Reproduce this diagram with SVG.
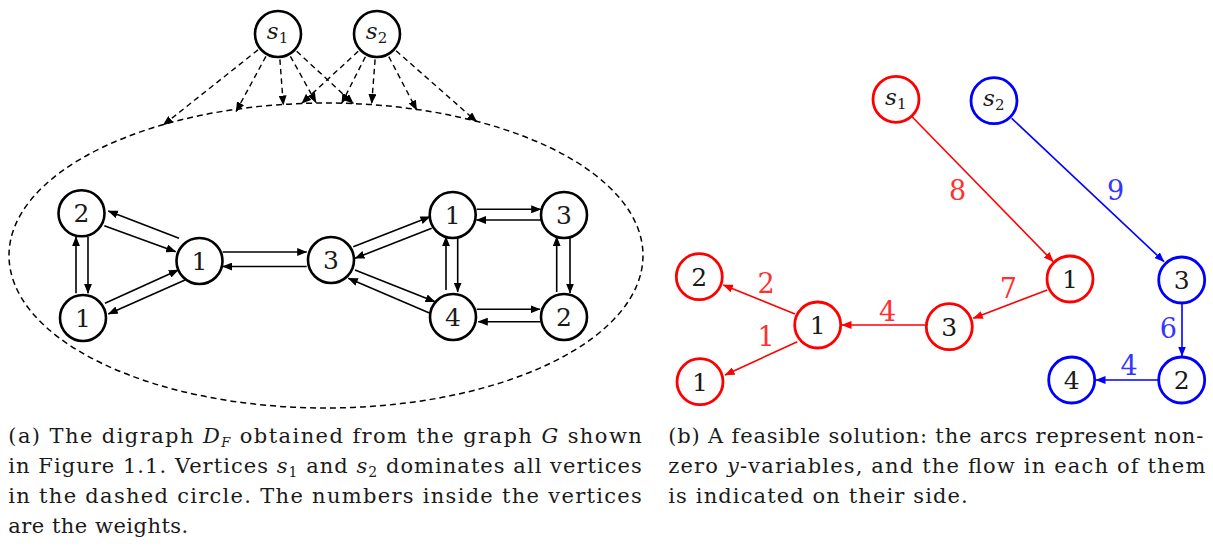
<svg xmlns="http://www.w3.org/2000/svg" width="1213" height="549" viewBox="0 0 1213 549">
<style>
.n circle{fill:#fff;stroke:#000;stroke-width:2.6}
.r circle{fill:#fff;stroke:#f00;stroke-width:2.8}
.b circle{fill:#fff;stroke:#00f;stroke-width:2.8}
text{font-family:'DejaVu Serif',serif;fill:#1a1a1a}
.lab{font-size:25px;text-anchor:middle}
.el{font-size:27px;text-anchor:middle}
.cap{font-size:21px}
.e line{stroke:#000;stroke-width:1.6;marker-end:url(#ah)}
.d line{stroke:#000;stroke-width:1.4;stroke-dasharray:5.5 4;marker-end:url(#ahd)}
.er line{stroke:#f00;stroke-width:1.6;marker-end:url(#ahr)}
.eb line{stroke:#00f;stroke-width:1.6;marker-end:url(#ahb)}
</style>
<defs>
<marker id="ah" viewBox="0 0 10 8" refX="9.5" refY="4" markerWidth="10" markerHeight="8" markerUnits="userSpaceOnUse" orient="auto"><path d="M0,0 L10,4 L0,8 Z" fill="#000"/></marker>
<marker id="ahd" viewBox="0 0 10 8" refX="9.5" refY="4" markerWidth="10" markerHeight="8" markerUnits="userSpaceOnUse" orient="auto"><path d="M0,0 L10,4 L0,8 Z" fill="#000"/></marker>
<marker id="ahr" viewBox="0 0 10 8" refX="9.5" refY="4" markerWidth="10" markerHeight="8" markerUnits="userSpaceOnUse" orient="auto"><path d="M0,0 L10,4 L0,8 Z" fill="#f00"/></marker>
<marker id="ahb" viewBox="0 0 10 8" refX="9.5" refY="4" markerWidth="10" markerHeight="8" markerUnits="userSpaceOnUse" orient="auto"><path d="M0,0 L10,4 L0,8 Z" fill="#00f"/></marker>
</defs>

<ellipse id="dashed-circle" cx="326" cy="255.5" rx="317" ry="152.5" fill="none" stroke="#000" stroke-width="1.5" stroke-dasharray="6 4"/>

<g id="connectors">
<g class="d">
<line x1="258.0" y1="49.9" x2="163.3" y2="125"/>
<line x1="265.9" y1="56.4" x2="236" y2="111.7"/>
<line x1="279.9" y1="59.4" x2="283.3" y2="105"/>
<line x1="290.4" y1="56.3" x2="316" y2="102.5"/>
<line x1="296.7" y1="51.3" x2="353.3" y2="103.5"/>
<line x1="358.2" y1="51.3" x2="301.7" y2="103.3"/>
<line x1="365.4" y1="56.7" x2="341.7" y2="103.3"/>
<line x1="375.1" y1="59.4" x2="371.7" y2="103.5"/>
<line x1="388.8" y1="56.6" x2="416.7" y2="110"/>
<line x1="396.1" y1="50.8" x2="476.7" y2="121.7"/>
</g>
<g class="e">
<line x1="179" y1="238.3" x2="108.3" y2="211"/>
<line x1="104.3" y1="225.7" x2="175.7" y2="251.7"/>
<line x1="105" y1="303.3" x2="178.3" y2="270"/>
<line x1="185" y1="280" x2="108.3" y2="314"/>
<line x1="76" y1="293.3" x2="76" y2="236.7"/>
<line x1="88" y1="236.7" x2="88" y2="293.3"/>
<line x1="222.7" y1="252" x2="306.7" y2="252"/>
<line x1="306.7" y1="266.5" x2="222.7" y2="266.5"/>
<line x1="353.3" y1="246.7" x2="430" y2="216.7"/>
<line x1="431.7" y1="228.3" x2="355" y2="258.3"/>
<line x1="355" y1="270" x2="435" y2="301.7"/>
<line x1="430" y1="313.3" x2="348.3" y2="278.3"/>
<line x1="446" y1="290" x2="446" y2="236.7"/>
<line x1="457.7" y1="236.7" x2="457.7" y2="292"/>
<line x1="476.7" y1="209.3" x2="540.7" y2="209.3"/>
<line x1="540.7" y1="220" x2="476.5" y2="220"/>
<line x1="556.7" y1="292" x2="556.7" y2="236.7"/>
<line x1="570" y1="236.7" x2="570" y2="293"/>
<line x1="476.7" y1="309.3" x2="540" y2="309.3"/>
<line x1="540" y1="321.7" x2="478.3" y2="321.7"/>
</g>
<g class="er">
<line x1="912.3" y1="117" x2="1053.3" y2="261.7"/>
<line x1="1047.3" y1="290" x2="973.3" y2="318.3"/>
<line x1="925" y1="325" x2="842" y2="325"/>
<line x1="795" y1="314" x2="723.3" y2="285"/>
<line x1="797.3" y1="341.7" x2="725" y2="375"/>
</g>
<g class="eb">
<line x1="1011.7" y1="118.3" x2="1164" y2="261.7"/>
<line x1="1182" y1="304" x2="1182" y2="356"/>
<line x1="1158" y1="380" x2="1096" y2="380"/>
</g>
</g>

<g id="edge-labels">
<text class="el" x="957.5" y="199.5" style="fill:#ff3030">8</text>
<text class="el" x="1008.3" y="297.5" style="fill:#ff3030">7</text>
<text class="el" x="887.7" y="321" style="fill:#ff3030">4</text>
<text class="el" x="766" y="292.8" style="fill:#ff3030">2</text>
<text class="el" x="766" y="346.2" style="fill:#ff3030">1</text>
<text class="el" x="1115.7" y="199.5" style="fill:#3535ff">9</text>
<text class="el" x="1168.3" y="337.8" style="fill:#3535ff">6</text>
<text class="el" x="1129" y="374.5" style="fill:#3535ff">4</text>
</g>

<g id="s1" class="n"><circle cx="278" cy="34" r="23"/><text class="lab" x="277.5" y="39" style="font-size:23px"><tspan font-style="italic">s</tspan><tspan font-size="15" dy="4">1</tspan></text></g>
<g id="s2" class="n"><circle cx="377" cy="34" r="23"/><text class="lab" x="376.5" y="39" style="font-size:23px"><tspan font-style="italic">s</tspan><tspan font-size="15" dy="4">2</tspan></text></g>
<g id="a-2" class="n"><circle cx="81.5" cy="213.3" r="23"/><text class="lab" x="81.5" y="222.3">2</text></g>
<g id="a-1b" class="n"><circle cx="83" cy="318" r="23"/><text class="lab" x="83" y="327">1</text></g>
<g id="a-1m" class="n"><circle cx="199.5" cy="261" r="23"/><text class="lab" x="199.5" y="270">1</text></g>
<g id="a-3" class="n"><circle cx="331" cy="260" r="23"/><text class="lab" x="331" y="269">3</text></g>
<g id="a-1t" class="n"><circle cx="452.7" cy="215" r="23"/><text class="lab" x="452.7" y="224">1</text></g>
<g id="a-3t" class="n"><circle cx="564" cy="215" r="23"/><text class="lab" x="564" y="224">3</text></g>
<g id="a-4" class="n"><circle cx="453" cy="317" r="23"/><text class="lab" x="453" y="326">4</text></g>
<g id="a-2b" class="n"><circle cx="564" cy="317" r="23"/><text class="lab" x="564" y="326">2</text></g>

<g id="b-s1" class="r"><circle cx="896" cy="99.3" r="23"/><text class="lab" x="895.8" y="104.5" style="font-size:23px"><tspan font-style="italic">s</tspan><tspan font-size="15" dy="4">1</tspan></text></g>
<g id="b-s2" class="b"><circle cx="994" cy="100.7" r="23"/><text class="lab" x="993.8" y="106" style="font-size:23px"><tspan font-style="italic">s</tspan><tspan font-size="15" dy="4">2</tspan></text></g>
<g id="b-r1" class="r"><circle cx="1070" cy="279" r="23"/><text class="lab" x="1070" y="288">1</text></g>
<g id="b-r3" class="r"><circle cx="949.3" cy="326.7" r="23"/><text class="lab" x="949.3" y="335.7">3</text></g>
<g id="b-r1m" class="r"><circle cx="817.7" cy="325" r="23"/><text class="lab" x="817.7" y="334">1</text></g>
<g id="b-r2" class="r"><circle cx="699.3" cy="276.7" r="23"/><text class="lab" x="699.3" y="285.7">2</text></g>
<g id="b-r1b" class="r"><circle cx="700" cy="381.7" r="23"/><text class="lab" x="700" y="390.7">1</text></g>
<g id="b-b3" class="b"><circle cx="1181.7" cy="280" r="23"/><text class="lab" x="1181.7" y="289">3</text></g>
<g id="b-b2" class="b"><circle cx="1181.7" cy="380" r="23"/><text class="lab" x="1181.7" y="389">2</text></g>
<g id="b-b4" class="b"><circle cx="1071.7" cy="380" r="23"/><text class="lab" x="1071.7" y="389">4</text></g>

<g id="caption-a">
<text class="cap" x="8.3" y="442.5" textLength="633.5" lengthAdjust="spacing">(a) The digraph <tspan font-style="italic">D</tspan><tspan font-style="italic" font-size="13" dy="4">F</tspan><tspan dy="-4"> obtained from the graph </tspan><tspan font-style="italic">G</tspan> shown</text>
<text class="cap" x="8.3" y="472.5" textLength="633.5" lengthAdjust="spacing">in Figure 1.1. Vertices <tspan font-style="italic">s</tspan><tspan font-size="14" dy="4">1</tspan><tspan dy="-4"> and </tspan><tspan font-style="italic">s</tspan><tspan font-size="14" dy="4">2</tspan><tspan dy="-4"> dominates all vertices</tspan></text>
<text class="cap" x="8.3" y="502.5" textLength="633.5" lengthAdjust="spacing">in the dashed circle. The numbers inside the vertices</text>
<text class="cap" x="8.3" y="532.5" textLength="180" lengthAdjust="spacing">are the weights.</text>
</g>
<g id="caption-b">
<text class="cap" x="668.3" y="442.5" textLength="535" lengthAdjust="spacing">(b) A feasible solution: the arcs represent non-</text>
<text class="cap" x="668.3" y="472.5" textLength="537" lengthAdjust="spacing">zero <tspan font-style="italic">y</tspan>-variables, and the flow in each of them</text>
<text class="cap" x="668.3" y="502.5" textLength="299.5" lengthAdjust="spacing">is indicated on their side.</text>
</g>
</svg>
